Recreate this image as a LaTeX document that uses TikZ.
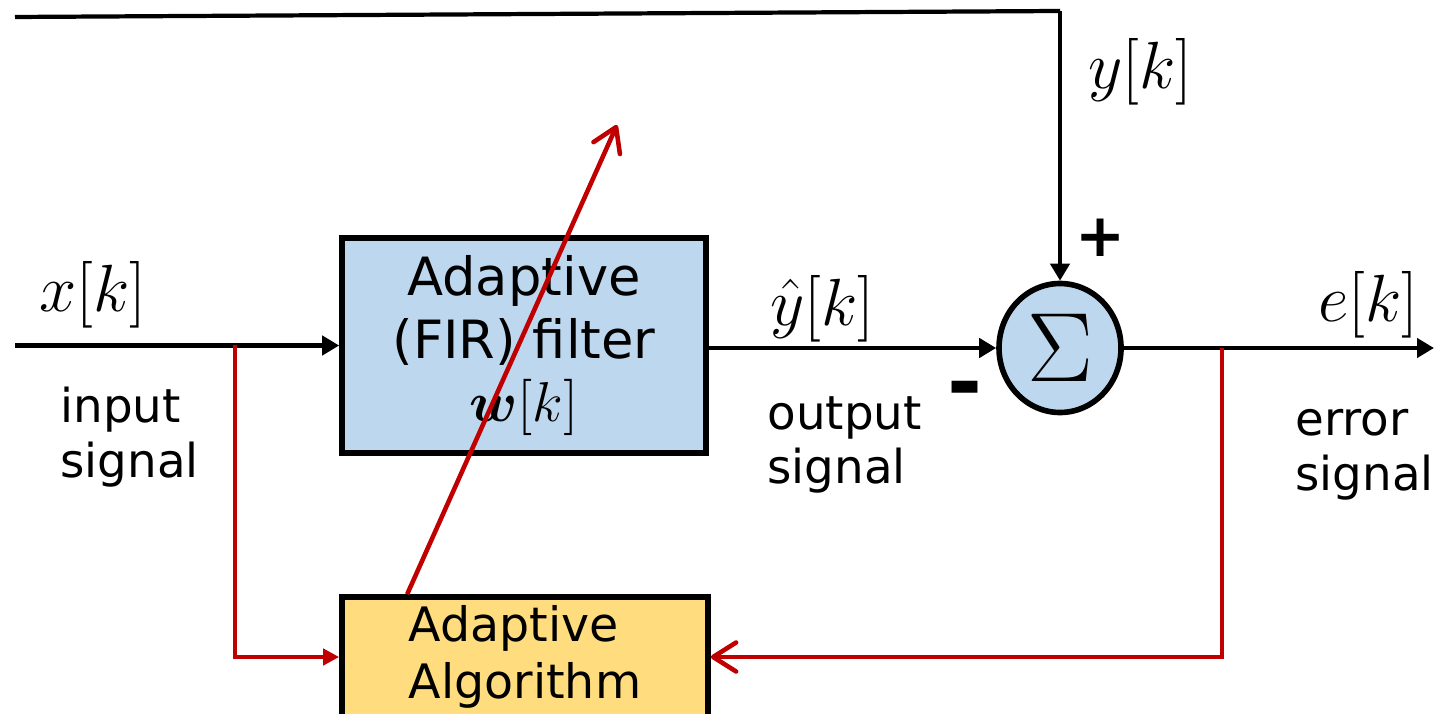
\RequirePackage{fix-cm}
\documentclass[tikz,border=0pt]{standalone}
\usepackage{amsmath, fontspec}
\setmainfont{DejaVu Sans}
\usetikzlibrary{arrows.meta, shapes.geometric, positioning}
\definecolor{filter area}{HTML}{BDD7EE}
\definecolor{algo area}{HTML}{FFDC7D}
\definecolor{adapt red}{HTML}{C00000}
\tikzset{
  block/.style={draw=black, line width=1.6pt, inner sep=0pt},
  signal/.style={draw=black, line width=1.2pt, -{Triangle[length=1.7mm, width=1.9mm]}},
  wire/.style={draw=black, line width=1.2pt},
  adapt/.style={draw=adapt red, line width=1.3pt},
  adapt tip/.style={-{Triangle[length=1.6mm, width=1.6mm]}},
  adapt barb/.style={-{Straight Barb[length=2.3mm, width=2.9mm, round]}},
  caption/.style={align=left, anchor=west, font=\fontsize{13.3}{15.6}\selectfont},
  mathlabel/.style={font=\fontsize{19}{19}\selectfont},
  sign/.style={font=\fontsize{24}{24}\selectfont\bfseries}
}

\begin{document}
\begin{tikzpicture}[font=\fontsize{15}{18}\selectfont]
    \useasboundingbox (0,0) rectangle (14.36,7.13);
    % blocks
    \node[block, fill=filter area, minimum width=3.64cm, minimum height=2.15cm,
      align=center] (filter) at (5.24,3.675) {Adaptive\\(FIR) filter\\{\fontsize{16}{18}\selectfont$\boldsymbol{w}[k]$}};
    \node[block, fill=algo area, minimum width=3.66cm, minimum height=1.2cm,
      align=left, font=\fontsize{13.5}{16.2}\selectfont] (algo) at (5.25,0.56) {Adaptive\\Algorithm};
    \node[ellipse, block, fill=filter area, minimum width=1.22cm, minimum height=1.29cm]
      (sum) at (10.6,3.65) {\fontsize{28}{28}\selectfont$\Sigma$};
    % signal path
    \coordinate (xin) at (0.15,3.675);
    \coordinate (xsplit) at (2.35,3.675);
    \coordinate (ystart) at (0.15,6.96);
    \coordinate (ycorner) at (10.6,7.02);
    \coordinate (esplit) at (12.22,3.65);
    \coordinate (eout) at (14.34,3.65);
    \draw[signal] (xin) -- (filter.west);
    \draw[signal] (filter.east |- sum.west) -- (sum.west);
    \draw[wire] (ystart) -- (ycorner);
    \draw[signal] (ycorner) -- (sum.north);
    \draw[signal] (sum.east) -- (eout);
    % adaptation
    \draw[adapt, adapt tip] (xsplit) |- (algo.west);
    \draw[adapt, adapt barb] (esplit) |- (algo.east);
    \coordinate (tune) at (6.17,5.88);
    \draw[adapt, adapt barb] ([xshift=0.68cm]algo.north west) -- (tune);
    % labels
    \node[mathlabel] (xlabel) at (0.93,4.18) {$x[k]$};
    \node[caption] (xcap) at (0.48,2.76) {input\\signal};
    \node[mathlabel] (yhatlabel) at (8.22,4.04) {$\hat{y}[k]$};
    \node[caption] (yhatcap) at (7.55,2.68) {output\\signal};
    \node[mathlabel] (elabel) at (13.68,4.08) {$e[k]$};
    \node[caption] (ecap) at (12.83,2.585) {error\\signal};
    \node[mathlabel] (ylabel) at (11.40,6.41) {$y[k]$};
    \node[sign, font=\fontsize{17}{17}\selectfont\bfseries] (plus) at (11.01,4.75) {+};
    \node[sign] (minus) at (9.65,3.17) {-};
  \end{tikzpicture}
\end{document}
